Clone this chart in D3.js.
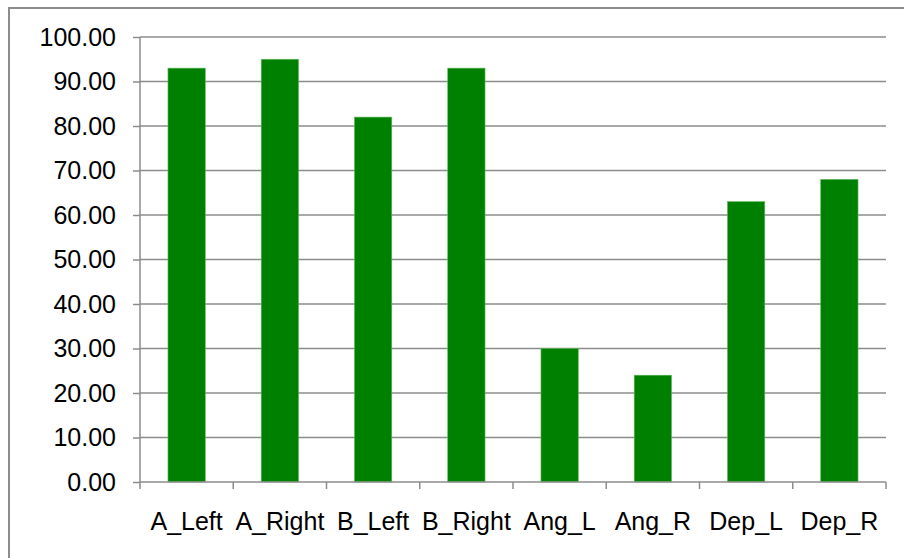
<!DOCTYPE html>
<html>
<head>
<meta charset="utf-8">
<script src="https://cdn.jsdelivr.net/npm/d3@7"></script>
<style>
  html, body { margin: 0; padding: 0; background: #fff; }
  svg { display: block; }
</style>
</head>
<body>
<script>
// Chart data
const categories = ["A_Left", "A_Right", "B_Left", "B_Right", "Ang_L", "Ang_R", "Dep_L", "Dep_R"];
const values = [93, 95, 82, 93, 30, 24, 63, 68];
const yTicks = [0, 10, 20, 30, 40, 50, 60, 70, 80, 90, 100];

const W = 904, H = 558;
const margin = { left: 140, right: 18, top: 37, bottom: 76 };
const fontFamily = "Liberation Sans, Arial, sans-serif";
const fontSize = "25px";

const svg = d3.select("body").append("svg")
  .attr("width", W).attr("height", H);

// Outer chart-area frame
svg.append("rect")
  .attr("x", 9).attr("y", 8)
  .attr("width", W + 20).attr("height", H + 20)
  .attr("fill", "#fff")
  .attr("stroke", "#8c8c8c")
  .attr("stroke-width", 2);

const x = d3.scaleBand()
  .domain(categories)
  .range([margin.left, W - margin.right])
  .paddingInner(0.6)
  .paddingOuter(0.3);

const y = d3.scaleLinear()
  .domain([0, 100])
  .range([H - margin.bottom, margin.top]);

// Horizontal gridlines
svg.append("g")
  .selectAll("line")
  .data(yTicks.filter(d => d > 0))
  .join("line")
  .attr("x1", margin.left).attr("x2", W - margin.right)
  .attr("y1", d => y(d)).attr("y2", d => y(d))
  .attr("stroke", "#8c8c8c")
  .attr("stroke-width", 1.5);

// Bars
svg.append("g")
  .selectAll("rect")
  .data(values)
  .join("rect")
  .attr("x", (d, i) => x(categories[i]))
  .attr("y", d => y(d))
  .attr("width", x.bandwidth())
  .attr("height", d => y(0) - y(d))
  .attr("fill", "#008000")
  .attr("stroke", "#5cb85c")
  .attr("stroke-width", 0.6);

// Y axis
const yAxis = d3.axisLeft(y)
  .tickValues(yTicks)
  .tickFormat(d3.format(".2f"))
  .tickSize(7)
  .tickPadding(17);

const gy = svg.append("g")
  .attr("transform", `translate(${margin.left},0)`)
  .call(yAxis);
gy.attr("font-size", null).attr("font-family", null);
gy.select(".domain").attr("stroke", "#8c8c8c").attr("stroke-width", 1.5)
  .attr("d", `M0,${y(0)}V${y(100)}`);
gy.selectAll(".tick line").attr("stroke", "#8c8c8c").attr("stroke-width", 1.5);
gy.selectAll(".tick text")
  .attr("fill", "#000")
  .style("font-family", fontFamily)
  .style("font-size", fontSize);

// X axis: category boundaries get tick marks, labels sit under band centres
const gx = svg.append("g")
  .attr("transform", `translate(0,${y(0)})`);
gx.append("line")
  .attr("x1", margin.left).attr("x2", W - margin.right)
  .attr("y1", 0).attr("y2", 0)
  .attr("stroke", "#8c8c8c").attr("stroke-width", 1.5);
const step = x.step();
const boundaries = d3.range(categories.length + 1).map(i => margin.left + i * step);
gx.selectAll("line.sep")
  .data(boundaries)
  .join("line")
  .attr("class", "sep")
  .attr("x1", d => d).attr("x2", d => d)
  .attr("y1", 0).attr("y2", 7)
  .attr("stroke", "#8c8c8c").attr("stroke-width", 1.5);
gx.selectAll("text")
  .data(categories)
  .join("text")
  .attr("x", d => x(d) + x.bandwidth() / 2)
  .attr("y", 48)
  .attr("text-anchor", "middle")
  .attr("fill", "#000")
  .style("font-family", fontFamily)
  .style("font-size", fontSize)
  .text(d => d);
</script>
</body>
</html>
